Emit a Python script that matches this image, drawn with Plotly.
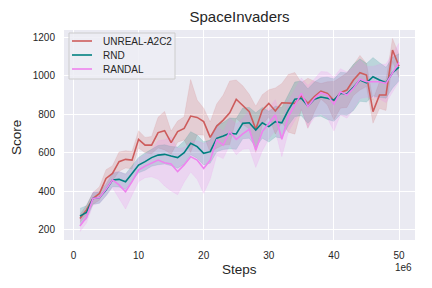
import plotly.graph_objects as go

steps = [1, 2, 3, 4, 5, 6, 7, 8, 9, 10, 11, 12, 13, 14, 15, 16, 17, 18, 19, 20,
         21, 22, 23, 24, 25, 26, 27, 28, 29, 30, 31, 32, 33, 34, 35, 36, 37, 38, 39, 40,
         41, 42, 43, 44, 45, 46, 47, 48, 49, 50]

unreal_mean = [259, 303, 363, 389, 467, 493, 554, 566, 562, 670,
               640, 640, 705, 715, 653, 710, 727, 791, 784, 762,
               680, 739, 770, 808, 878, 848, 814, 722, 822, 857,
               817, 860, 857, 857, 895, 857, 892, 920, 909, 871,
               912, 926, 978, 1016, 1004, 814, 900, 900, 1134, 1050]
unreal_spread = [20, 25, 30, 35, 45, 40, 50, 45, 45, 45,
                 40, 45, 80, 100, 60, 55, 60, 190, 90, 70,
                 80, 115, 130, 165, 100, 100, 90, 120, 80, 70,
                 120, 100, 150, 160, 70, 130, 80, 40, 60, 100,
                 80, 90, 80, 90, 60, 60, 70, 80, 60, 60]

rnd_mean = [271, 290, 363, 368, 407, 459, 462, 450, 493, 536,
            554, 575, 588, 592, 583, 575, 601, 650, 632, 597,
            606, 675, 687, 701, 698, 753, 756, 718, 756, 736,
            762, 756, 822, 878, 883, 843, 878, 890, 883, 874,
            909, 905, 940, 978, 964, 995, 978, 964, 1016, 1045]
rnd_spread = [40, 35, 30, 30, 30, 35, 40, 40, 40, 40,
              45, 45, 50, 50, 50, 55, 60, 60, 60, 60,
              60, 70, 70, 80, 80, 80, 80, 90, 80, 80,
              80, 80, 80, 90, 90, 90, 90, 100, 110, 110,
              110, 110, 120, 110, 100, 100, 90, 80, 80, 70]

randal_mean = [220, 265, 363, 368, 410, 459, 433, 398, 450, 510,
               531, 545, 562, 548, 542, 502, 537, 580, 562, 519,
               562, 666, 640, 710, 670, 698, 722, 614, 710, 753,
               796, 670, 788, 848, 909, 840, 883, 912, 900, 853,
               917, 900, 935, 982, 969, 969, 969, 961, 1013, 1070]
randal_spread = [30, 30, 35, 30, 35, 40, 70, 90, 70, 60,
                 60, 70, 100, 120, 140, 120, 90, 80, 100, 130,
                 100, 80, 70, 70, 80, 80, 100, 90, 100, 80,
                 80, 90, 80, 80, 80, 110, 100, 110, 120, 140,
                 120, 120, 110, 100, 80, 80, 90, 100, 100, 100]

series_names = ["UNREAL-A2C2", "RND", "RANDAL"]
series_colors = ["#cd5c5c", "#008080", "#ee82ee"]
series_fills = ["rgba(205,92,92,0.2)", "rgba(0,128,128,0.2)", "rgba(238,130,238,0.2)"]
series_means = [unreal_mean, rnd_mean, randal_mean]
series_spreads = [unreal_spread, rnd_spread, randal_spread]

x_ticks = [0, 10, 20, 30, 40, 50]
y_ticks = [200, 400, 600, 800, 1000, 1200]

TXT = "#262626"
FONT = "Liberation Sans, Arial, sans-serif"

# page offset (browser body margin)
OFF = 8
W, H = 432 - OFF, 288 - OFF
PL, PR, PT, PB = 64, 415, 30, 240  # plot area in page pixels
pw, ph = PR - PL, PB - PT


def px(x):
    return (x - PL) / pw


def py(y):
    return (PB - y) / ph


fig = go.Figure()

for mean, spread, fill in zip(series_means, series_spreads, series_fills):
    upper = [m + s for m, s in zip(mean, spread)]
    lower = [m - s for m, s in zip(mean, spread)]
    fig.add_trace(go.Scatter(x=steps, y=upper, mode="lines", line=dict(width=0.6, color=fill),
                             showlegend=False, hoverinfo="skip"))
    fig.add_trace(go.Scatter(x=steps, y=lower, mode="lines", line=dict(width=0.6, color=fill),
                             fill="tonexty", fillcolor=fill, showlegend=False, hoverinfo="skip"))

for name, mean, color in zip(series_names, series_means, series_colors):
    fig.add_trace(go.Scatter(x=steps, y=mean, mode="lines", name=name, showlegend=False,
                             line=dict(color=color, width=1.6)))

# legend drawn as box + sample lines + text
shapes = [dict(type="rect", xref="paper", yref="paper", x0=px(69), x1=px(175), y0=py(79), y1=py(33),
               line=dict(color="#cccccc", width=1), fillcolor="rgba(237,237,244,0.85)", layer="above")]
annotations = []
legend_rows = [41, 55, 69]
for name, color, ry in zip(series_names, series_colors, legend_rows):
    shapes.append(dict(type="line", xref="paper", yref="paper", x0=px(72), x1=px(92),
                       y0=py(ry), y1=py(ry), line=dict(color=color, width=1.6), layer="above"))
    annotations.append(dict(text=name, xref="paper", yref="paper", x=px(101), y=py(ry),
                            xanchor="left", yanchor="middle", showarrow=False,
                            font=dict(size=10, color=TXT)))

annotations += [
    dict(text="Steps", xref="paper", yref="paper", x=px(239), y=py(269), showarrow=False,
         xanchor="center", yanchor="middle", font=dict(size=13.5, color=TXT)),
    dict(text="Score", xref="paper", yref="paper", x=px(16), y=py(137), showarrow=False,
         textangle=-90, xanchor="center", yanchor="middle", font=dict(size=13.5, color=TXT)),
    dict(text="1e6", xref="paper", yref="paper", x=px(403), y=py(267), showarrow=False,
         xanchor="center", yanchor="middle", font=dict(size=10, color=TXT)),
]

fig.update_layout(
    width=W, height=H,
    margin=dict(l=PL - OFF, r=W - (PR - OFF), t=PT - OFF, b=H - (PB - OFF)),
    paper_bgcolor="white",
    plot_bgcolor="#eaeaf2",
    font=dict(family=FONT, size=10, color=TXT),
    title=dict(text="SpaceInvaders", x=((PL + PR) / 2 - OFF) / W, xanchor="center",
               y=1 - (17 - OFF) / H, yanchor="middle", font=dict(size=15, color=TXT)),
    showlegend=False,
    xaxis=dict(range=[-1.45, 52.45], tickvals=x_ticks, ticktext=[str(v) for v in x_ticks],
               showgrid=True, gridcolor="white", gridwidth=1, zeroline=False,
               showline=False, ticks="", ticklabelstandoff=8, tickfont=dict(size=10)),
    yaxis=dict(range=[147, 1238], tickvals=y_ticks, ticktext=[str(v) for v in y_ticks],
               showgrid=True, gridcolor="white", gridwidth=1, zeroline=False,
               showline=False, ticks="", ticklabelstandoff=8, tickfont=dict(size=10)),
    shapes=shapes,
    annotations=annotations,
)

fig.write_html("out.html")
